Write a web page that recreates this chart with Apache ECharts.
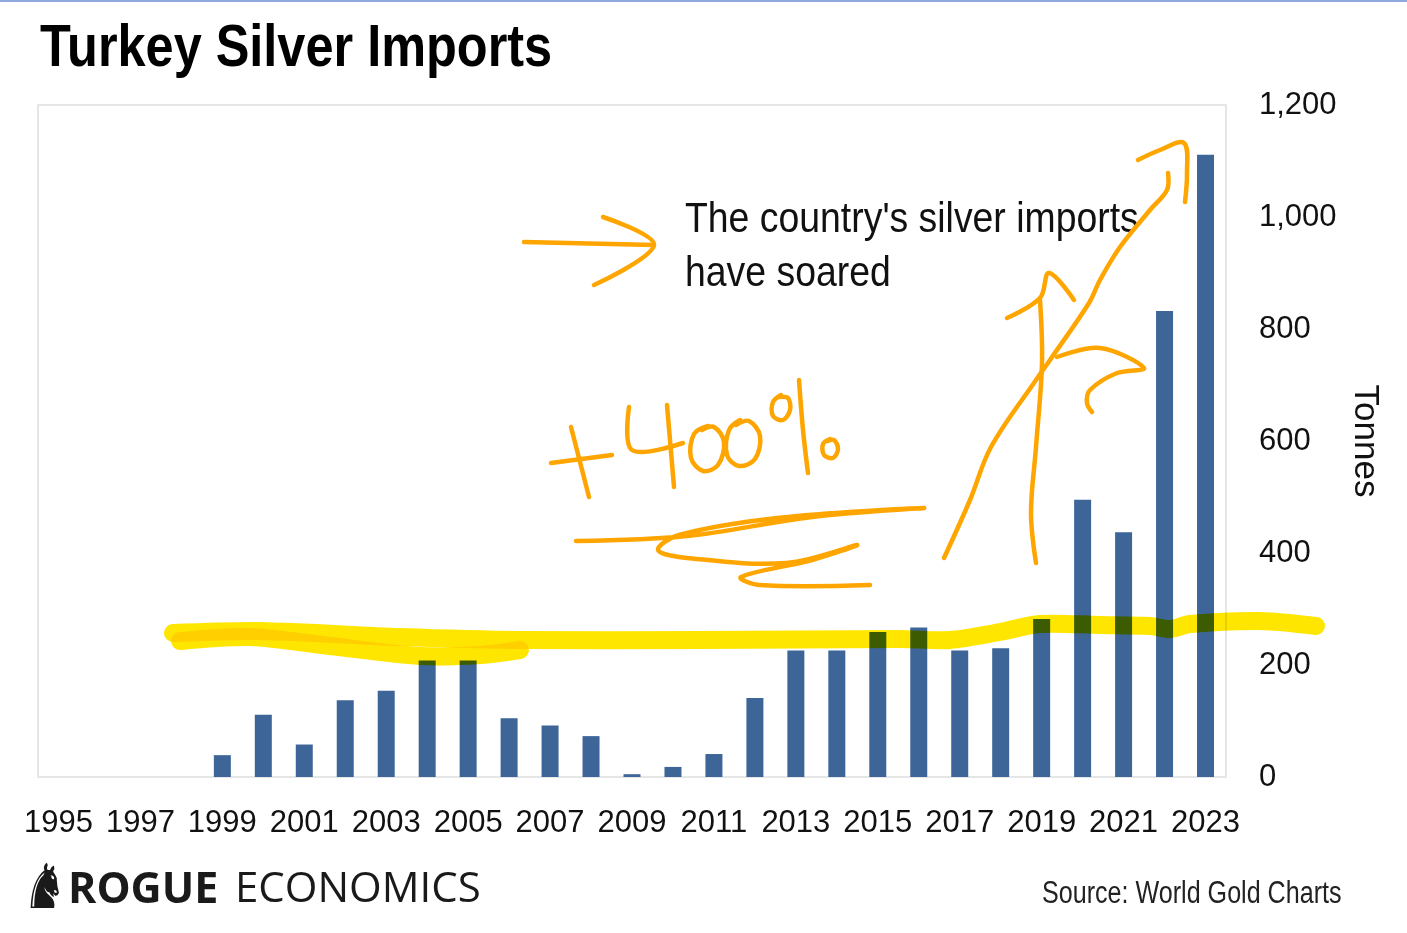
<!DOCTYPE html>
<html>
<head>
<meta charset="utf-8">
<script src="https://cdn.jsdelivr.net/npm/echarts@6/dist/echarts.min.js"></script>
<style>
html,body{margin:0;padding:0;background:#fff;}
#chart{width:1407px;height:933px;}
</style>
</head>
<body>
<div id="chart"></div>
<script>
// ---- data ----
const years = ['1995','1996','1997','1998','1999','2000','2001','2002','2003','2004','2005','2006','2007','2008','2009','2010','2011','2012','2013','2014','2015','2016','2017','2018','2019','2020','2021','2022','2023'];
const imports = [0,0,0,0,39,111,58,137,154,208,208,105,92,73,5,18,41,141,226,226,259,267,226,230,282,495,437,832,1111];
const yTicks = {min:0, max:1200, interval:200};
const titleText = 'Turkey Silver Imports';
const noteText = "The country's silver imports\nhave soared";
const sourceText = 'Source: World Gold Charts';
const unitName = 'Tonnes';

// ---- hand-drawn annotation strokes (decoration, pixel space) ----
const yellowStrokes = [
  [[173,633],[260,631],[400,637],[520,640],[700,640],[900,639],[950,640],[1000,632],[1040,624],[1100,625],[1150,626],[1170,629],[1190,624],[1260,621],[1316,626]],
  [[180,641],[250,637],[330,646],[420,656],[480,655],[520,650]]
];
const orangeStrokes = [
  [[524,242],[654,245]],
  [[603,217],[654,245],[594,285]],
  [[551,463],[612,455]],
  [[571,427],[589,497]],
  [[629,407],[632,450],[683,443]],
  [[667,405],[674,487]],
  [[708,426],[694,434],[691,458],[703,471],[718,465],[724,442],[714,427],[702,430]],
  [[740,420],[729,430],[727,455],[739,466],[755,459],[760,436],[749,421],[736,425]],
  [[781,395],[773,402],[773,416],[783,420],[790,410],[788,398],[779,397]],
  [[799,380],[803,430],[808,473]],
  [[830,439],[823,444],[824,455],[833,458],[838,449],[834,440],[828,441]],
  [[576,541],[687,536],[812,517],[924,508],[777,518],[679,535],[658,550],[687,558],[786,563],[857,545],[812,560],[741,577],[759,585],[870,585]],
  [[944,558],[970,500],[991,447],[1036,380],[1050,360],[1089,303],[1100,280],[1120,247],[1150,210],[1167,190],[1168,173]],
  [[1138,160],[1160,150],[1184,143],[1187,173],[1185,202]],
  [[1036,563],[1031,513],[1036,447],[1042,363],[1040,300]],
  [[1007,318],[1040,298],[1049,273],[1074,300]],
  [[1057,357],[1100,348],[1144,368],[1117,373],[1090,390],[1087,403],[1092,412]]
];

const SANS = "'Liberation Sans',Arial,Helvetica,sans-serif";

const chart = echarts.init(document.getElementById('chart'));
const graphics = [
  {type:'rect', left:0, top:0, shape:{width:1407,height:2}, style:{fill:'#8fa8dd'}, z:50}
];
yellowStrokes.forEach(pts => graphics.push({
  type:'polyline', shape:{points:pts, smooth:0.3}, z:100,
  style:{stroke:'#FFE600', lineWidth:18, fill:null, lineCap:'round', lineJoin:'round', blend:'multiply'}
}));
orangeStrokes.forEach(pts => graphics.push({
  type:'polyline', shape:{points:pts, smooth:0.35}, z:101,
  style:{stroke:'#FFA500', lineWidth:4.5, fill:null, lineCap:'round', lineJoin:'round'}
}));
// title (condensed via scaleX)
graphics.push({
  type:'text', x:40, y:20, scaleX:0.855, z:90,
  style:{text:titleText, font:"bold 59px " + SANS, fill:'#000'}
});
graphics.push({
  type:'text', x:685, y:193, scaleX:0.89, z:90,
  style:{text:noteText, font:"42px " + SANS, fill:'#111', lineHeight:54}
});
graphics.push({
  type:'text', x:1042, y:879, scaleX:0.81, z:90,
  style:{text:sourceText, font:"31px " + SANS, fill:'#222'}
});
// logo
graphics.push({
  type:'text', x:67, y:861, scaleX:-0.8, z:90,
  style:{text:'\u265E', font:"62px 'DejaVu Sans'", fill:'#1a1a1a'}
});
graphics.push({
  type:'text', x:68, y:869, z:90,
  style:{text:'ROGUE', font:"bold 43px 'Open Sans'", fill:'#1a1a1a'}
});
graphics.push({
  type:'text', x:235, y:869, z:90,
  style:{text:'ECONOMICS', font:"42px 'Open Sans'", fill:'#1a1a1a'}
});

chart.setOption({
  backgroundColor:'#fff',
  animation:false,
  grid:{left:38, right:181, top:105, bottom:156, show:true, borderColor:'#e6e6e6', borderWidth:2, backgroundColor:'#fff'},
  xAxis:{
    type:'category', data:years,
    axisLine:{show:false}, axisTick:{show:false}, splitLine:{show:false},
    axisLabel:{interval:1, fontFamily:SANS, fontSize:31, color:'#111', margin:31}
  },
  yAxis:{
    type:'value', position:'right', min:yTicks.min, max:yTicks.max, interval:yTicks.interval,
    axisLine:{show:false}, axisTick:{show:false}, splitLine:{show:false},
    axisLabel:{fontFamily:SANS, fontSize:31, color:'#111', margin:33,
      formatter:v => v.toLocaleString('en-US')},
    name:unitName, nameLocation:'middle', nameRotate:-90, nameGap:115,
    nameTextStyle:{fontFamily:SANS, fontSize:35, color:'#111'}
  },
  series:[{
    type:'bar', data:imports, barWidth:17,
    itemStyle:{color:'#3D6598'}
  }],
  graphic:graphics
});
</script>
</body>
</html>
